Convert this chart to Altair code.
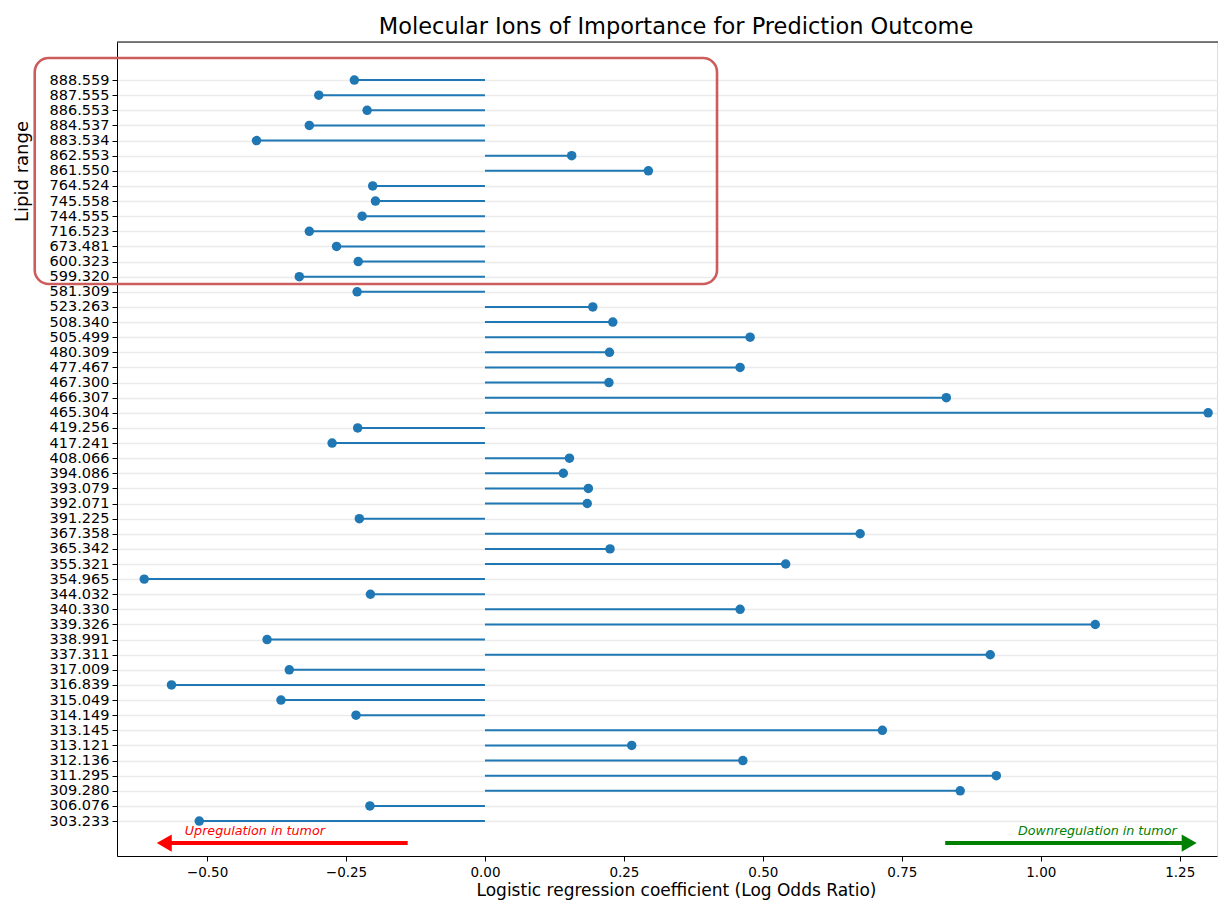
import altair as alt
import pandas as pd

# ---- data (top to bottom as shown) ----
labels = [
    "888.559", "887.555", "886.553", "884.537", "883.534", "862.553", "861.550",
    "764.524", "745.558", "744.555", "716.523", "673.481", "600.323", "599.320",
    "581.309", "523.263", "508.340", "505.499", "480.309", "477.467", "467.300",
    "466.307", "465.304", "419.256", "417.241", "408.066", "394.086", "393.079",
    "392.071", "391.225", "367.358", "365.342", "355.321", "354.965", "344.032",
    "340.330", "339.326", "338.991", "337.311", "317.009", "316.839", "315.049",
    "314.149", "313.145", "313.121", "312.136", "311.295", "309.280", "306.076",
    "303.233",
]
coefs = [
    -0.235, -0.299, -0.212, -0.316, -0.411, 0.156, 0.294,
    -0.202, -0.197, -0.221, -0.316, -0.267, -0.228, -0.334,
    -0.230, 0.194, 0.230, 0.477, 0.224, 0.459, 0.223,
    0.830, 1.301, -0.229, -0.275, 0.152, 0.141, 0.186,
    0.184, -0.226, 0.675, 0.225, 0.541, -0.613, -0.206,
    0.459, 1.098, -0.392, 0.909, -0.352, -0.564, -0.367,
    -0.232, 0.715, 0.264, 0.464, 0.920, 0.855, -0.207,
    -0.514,
]
x_ticks = [-0.5, -0.25, 0.0, 0.25, 0.5, 0.75, 1.0, 1.25]
x_domain = [-0.662, 1.317]
y_domain = [-2.31, 51.52]

# annotation arrows / texts
arrow_tail = [-0.139, 0.828]
arrow_head = [-0.577, 1.267]
arrow_row = [-1.455, -1.455]
arrow_color = ["#ff0000", "#008000"]
arrow_shape = ["triangle-left", "triangle-right"]
note_text = ["Upregulation in tumor", "Downregulation in tumor"]
note_x = [-0.540, 0.959]
note_row = [-0.66, -0.66]

# highlight box
box_x = [-0.810]
box_x2 = [0.4175]
box_y = [35.52]
box_y2 = [50.46]

n = len(labels)
positions = list(range(n - 1, -1, -1))
df = pd.DataFrame({"label": labels, "coef": coefs, "pos": positions, "zero": [0.0] * n})
bottom_up = labels[::-1]
label_expr = "[" + ",".join("'" + s + "'" for s in bottom_up) + "][datum.value]"

arrows = pd.DataFrame({"tail": arrow_tail, "head": arrow_head, "row": arrow_row,
                       "color": arrow_color, "shape": arrow_shape})
notes = pd.DataFrame({"text": note_text, "x": note_x, "row": note_row, "color": arrow_color})
box = pd.DataFrame({"x": box_x, "x2": box_x2, "y": box_y, "y2": box_y2})

FONT = "DejaVu Sans"
xscale = alt.Scale(domain=x_domain, nice=False, zero=False)
yscale = alt.Scale(domain=y_domain, nice=False, zero=False)

x_axis = alt.Axis(values=x_ticks, format=".2f", title="Logistic regression coefficient (Log Odds Ratio)",
                  grid=False, labelFontSize=13.5, labelColor="#000", labelFont=FONT,
                  tickSize=5, tickColor="#000", domainColor="#000", labelPadding=4,
                  titleFontSize=17, titleFont=FONT, titleFontWeight="normal", titleColor="#000",
                  titleX=559, titleY=34, titleAlign="center", titleBaseline="middle", titleAnchor="start")
y_axis = alt.Axis(values=positions, tickCount=100, labelExpr=label_expr, labelOverlap=False,
                  title="Lipid range", titleFontSize=18, titleFont=FONT, titleFontWeight="normal",
                  titleColor="#000", titleX=-95, titleY=129, titleAngle=-90, titleAlign="center",
                  titleBaseline="middle", titleAnchor="start",
                  grid=True, gridColor="#ebebeb", gridWidth=1.6,
                  labelFontSize=14.5, labelColor="#000", labelFont=FONT, labelPadding=3,
                  tickSize=5, tickColor="#000", domainColor="#000")

stems = alt.Chart(df).mark_rule(color="#1f77b4", strokeWidth=2).encode(
    x=alt.X("zero:Q", scale=xscale, axis=x_axis),
    x2="coef:Q",
    y=alt.Y("pos:Q", scale=yscale, axis=y_axis),
)
dots = alt.Chart(df).mark_circle(color="#1f77b4", size=90, opacity=1).encode(
    x=alt.X("coef:Q", scale=xscale),
    y=alt.Y("pos:Q", scale=yscale),
)
shafts = alt.Chart(arrows).mark_rule(strokeWidth=4).encode(
    x=alt.X("tail:Q", scale=xscale),
    x2="head:Q",
    y=alt.Y("row:Q", scale=yscale),
    color=alt.Color("color:N", scale=None),
)
heads = alt.Chart(arrows).mark_point(filled=True, size=300, opacity=1, strokeWidth=0).encode(
    x=alt.X("head:Q", scale=xscale),
    y=alt.Y("row:Q", scale=yscale),
    color=alt.Color("color:N", scale=None),
    shape=alt.Shape("shape:N", scale=None),
)
texts = alt.Chart(notes).mark_text(align="left", baseline="middle", fontSize=12.7,
                                   fontStyle="italic", font=FONT).encode(
    x=alt.X("x:Q", scale=xscale),
    y=alt.Y("row:Q", scale=yscale),
    text="text:N",
    color=alt.Color("color:N", scale=None),
)
frame_top = alt.Chart(box).mark_rule(color="#000", strokeWidth=1).encode(
    x=alt.value(0), x2=alt.value(1101), y=alt.value(0)
)
hbox = alt.Chart(box).mark_rect(fillOpacity=0, fill="white", stroke="#cd5c5c", strokeWidth=2.6,
                                cornerRadius=14).encode(
    x=alt.X("x:Q", scale=xscale),
    x2="x2:Q",
    y=alt.Y("y:Q", scale=yscale),
    y2="y2:Q",
)

chart = alt.layer(stems, dots, shafts, heads, texts, frame_top, hbox).properties(
    width=1100,
    height=814,
    autosize=alt.AutoSizeParams(type="none"),
    padding={"left": 109, "top": 34, "right": 1, "bottom": 45},
    title=alt.TitleParams("Molecular Ions of Importance for Prediction Outcome", fontSize=22.5,
                          font=FONT, fontWeight="normal", color="#000", anchor="middle",
                          dx=9, offset=3),
).configure_view(stroke=None).configure(font=FONT)

chart.save("out.html", embed_options={"renderer": "svg", "actions": False})
